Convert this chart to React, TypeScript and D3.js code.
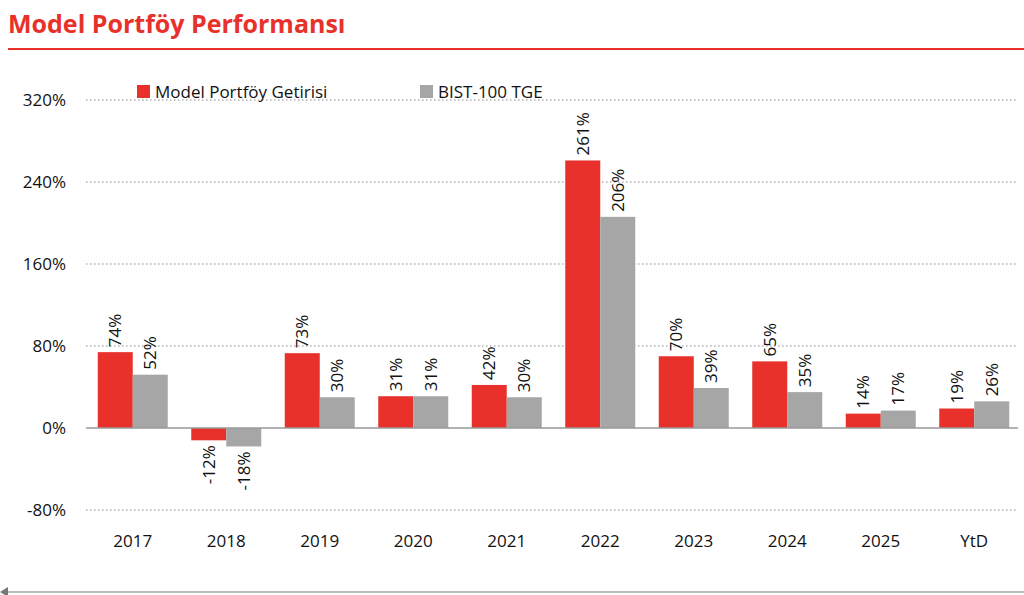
import React from 'react';
import * as d3 from 'd3';

const categories = ['2017', '2018', '2019', '2020', '2021', '2022', '2023', '2024', '2025', 'YtD'];
const modelReturns = [74, -12, 73, 31, 42, 261, 70, 65, 14, 19];
const bistReturns = [52, -18, 30, 31, 30, 206, 39, 35, 17, 26];
const yTicks = [-80, 0, 80, 160, 240, 320];
const seriesNames = ['Model Portföy Getirisi', 'BIST-100 TGE'];

const RED = '#e8312a';
const GRAY = '#a6a6a6';
const FONT = '"Open Sans", "Liberation Sans", sans-serif';

export default function App() {
  const W = 1024, H = 595;
  const x = d3.scaleBand<string>().domain(categories).range([86, 1021]);
  const y = d3.scaleLinear().domain([-80, 320]).range([510, 100]);
  const barW = 35;

  const series = [
    { vals: modelReturns, color: RED, off: -barW },
    { vals: bistReturns, color: GRAY, off: 0 },
  ];

  return (
    <svg width={W} height={H} style={{ position: 'absolute', left: 0, top: 0, fontFamily: FONT }}>
      <rect width={W} height={H} fill="#fff" />
      <text x={8} y={33} fill={RED} fontSize={25} fontWeight="bold">Model Portföy  Performansı</text>
      <line x1={8} x2={W} y1={49} y2={49} stroke={RED} strokeWidth={2} />

      {yTicks.map(t => (
        <g key={t}>
          {t !== 0 && <line x1={86} x2={1018} y1={y(t)} y2={y(t)} stroke="#888" strokeDasharray="1.5,2.5" />}
          <text x={66} y={y(t) + 6} textAnchor="end" fontSize={17} fill="#111">{t}%</text>
        </g>
      ))}

      {series.map((s, si) =>
        s.vals.map((v, i) => {
          const cx = x(categories[i])! + x.bandwidth() / 2;
          const bx = cx + s.off;
          const top = y(Math.max(v, 0));
          const h = Math.abs(y(v) - y(0));
          const lx = bx + barW / 2 + 6;
          const ly = v >= 0 ? y(v) - 5 : y(v) + 5;
          return (
            <g key={`${si}-${i}`}>
              <rect x={bx} y={top} width={barW} height={h} fill={s.color} />
              <text transform={`translate(${lx},${ly}) rotate(-90)`} textAnchor={v >= 0 ? 'start' : 'end'}
                fontSize={17} fill="#111">{v}%</text>
            </g>
          );
        })
      )}

      <line x1={86} x2={1018} y1={y(0)} y2={y(0)} stroke="#999" strokeWidth={1.5} />

      {categories.map(c => (
        <text key={c} x={x(c)! + x.bandwidth() / 2} y={547} textAnchor="middle" fontSize={17} fill="#111">{c}</text>
      ))}

      <rect x={137} y={85} width={13} height={13} fill={RED} />
      <text x={155} y={98} fontSize={17} fill="#111">{seriesNames[0]}</text>
      <rect x={420} y={85} width={13} height={13} fill={GRAY} />
      <text x={438} y={98} fontSize={17} fill="#111">{seriesNames[1]}</text>

      <line x1={4} x2={W} y1={592} y2={592} stroke="#bbb" strokeWidth={2} />
      <path d="M0,592 L8,587 L8,597 Z" fill="#777" />
    </svg>
  );
}
